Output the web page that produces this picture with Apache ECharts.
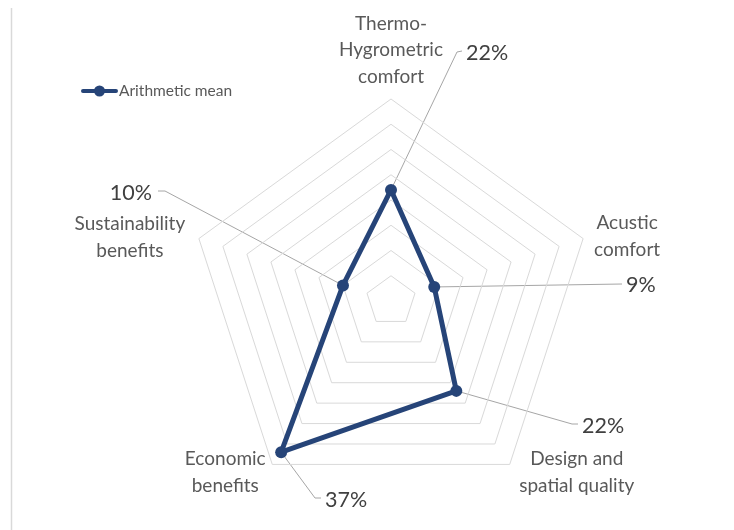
<!DOCTYPE html>
<html>
<head>
<meta charset="utf-8">
<script src="https://cdn.jsdelivr.net/npm/echarts@6/dist/echarts.min.js"></script>
<style>
  html, body { margin: 0; padding: 0; background: #ffffff; }
  #chart { width: 734px; height: 530px; }
</style>
</head>
<body>
<div id="chart"></div>
<script>
// Categories in clockwise order, starting from the top
const categories = [
  'Thermo-\nHygrometric\ncomfort',
  'Acustic\ncomfort',
  'Design and\nspatial quality',
  'Economic\nbenefits',
  'Sustainability\nbenefits'
];
const seriesName = 'Arithmetic mean';
const meanValues = [22, 9, 22, 37, 10];   // percent
const axisMax = 40;
const ringCount = 8;

const FONT = 'Lato, "Open Sans", sans-serif';
const LINE_COLOR = '#264478';

// Placement of the category names relative to each outer vertex
// (dx, dy, align, verticalAlign)
const nameLayout = [
  [0, -9, 'center', 'bottom'],
  [44, -2, 'center', 'middle'],
  [67, 8, 'center', 'middle'],
  [-47, 8, 'center', 'middle'],
  [-69, -1, 'center', 'middle']
];
// Placement of the value labels relative to the radar centre:
// elbow of the leader line, end of the leader line, text anchor, text align
const valueLayout = [
  { elbow: [66, -249], end: [71, -250], text: [75, -248], align: 'left' },
  { elbow: [231, -17], end: [231, -17], text: [235, -16], align: 'left' },
  { elbow: [181, 123], end: [187, 123], text: [191, 125], align: 'left' },
  { elbow: [-76, 197], end: [-70, 197], text: [-66, 199], align: 'left' },
  { elbow: [-226, -110], end: [-233, -110], text: [-239, -108], align: 'right' }
];

// ECharts lays radar indicators out counter-clockwise; reorder so that the
// categories run clockwise from the top.
const order = categories.map((_, i) => (i === 0 ? 0 : categories.length - i));
const ecIndex = categories.map((_, i) => order.indexOf(i));

const chart = echarts.init(document.getElementById('chart'), null, { renderer: 'canvas' });

chart.setOption({
  animation: false,
  backgroundColor: '#ffffff',
  legend: {
    data: [seriesName],
    left: 76,
    top: 78,
    itemWidth: 37,
    itemHeight: 11,
    itemGap: 0,
    icon: 'path://M2,3.5 L35,3.5 A2,2 0 0 1 35,7.5 L2,7.5 A2,2 0 0 1 2,3.5 Z M13,5.5 A5.5,5.5 0 1 1 24,5.5 A5.5,5.5 0 1 1 13,5.5 Z',
    selectedMode: false,
    textStyle: { color: '#595959', fontSize: 15.5, fontFamily: FONT, padding: [0, 0, 0, -4] }
  },
  radar: {
    center: [391, 301],
    radius: 202,
    startAngle: 90,
    shape: 'polygon',
    splitNumber: ringCount,
    indicator: order.map(i => ({ name: categories[i], min: 0, max: axisMax })),
    axisName: { show: false },
    axisLine: { show: false },
    axisTick: { show: false },
    axisLabel: { show: false },
    splitArea: { show: false },
    splitLine: { lineStyle: { color: '#d9d9d9', width: 1 } }
  },
  series: [{
    type: 'radar',
    name: seriesName,
    symbol: 'circle',
    symbolSize: 12,
    lineStyle: { color: LINE_COLOR, width: 5, join: 'round' },
    itemStyle: { color: LINE_COLOR },
    data: [{ name: seriesName, value: order.map(i => meanValues[i]) }]
  }]
});

// Category names and value labels with leader lines, positioned from the
// radar coordinate system.
const radarCS = chart.getModel().getComponent('radar', 0).coordinateSystem;
const cx = radarCS.cx, cy = radarCS.cy;
const graphics = [];

// chart-area border on the left
graphics.push({
  type: 'line', silent: true,
  shape: { x1: 11.5, y1: 8, x2: 11.5, y2: 530 },
  style: { stroke: '#d9d9d9', lineWidth: 1.5 }
});

categories.forEach((name, i) => {
  const k = ecIndex[i];
  const vertex = radarCS.dataToPoint(axisMax, k);
  const [dx, dy, align, vAlign] = nameLayout[i];
  graphics.push({
    type: 'text', silent: true,
    x: vertex[0] + dx, y: vertex[1] + dy,
    style: {
      text: name, fill: '#595959', font: '19px ' + FONT,
      align: align, verticalAlign: vAlign, lineHeight: 26.5
    }
  });

  const pt = radarCS.dataToPoint(meanValues[i], k);
  const lay = valueLayout[i];
  graphics.push({
    type: 'polyline', silent: true, z: -1,
    shape: { points: [pt, [cx + lay.elbow[0], cy + lay.elbow[1]], [cx + lay.end[0], cy + lay.end[1]]] },
    style: { stroke: '#a6a6a6', lineWidth: 1, fill: null }
  });
  graphics.push({
    type: 'text', silent: true,
    x: cx + lay.text[0], y: cy + lay.text[1],
    style: {
      text: meanValues[i] + '%', fill: '#404040', font: '21.5px ' + FONT,
      align: lay.align, verticalAlign: 'middle'
    }
  });
});

chart.setOption({ graphic: graphics });
</script>
</body>
</html>
